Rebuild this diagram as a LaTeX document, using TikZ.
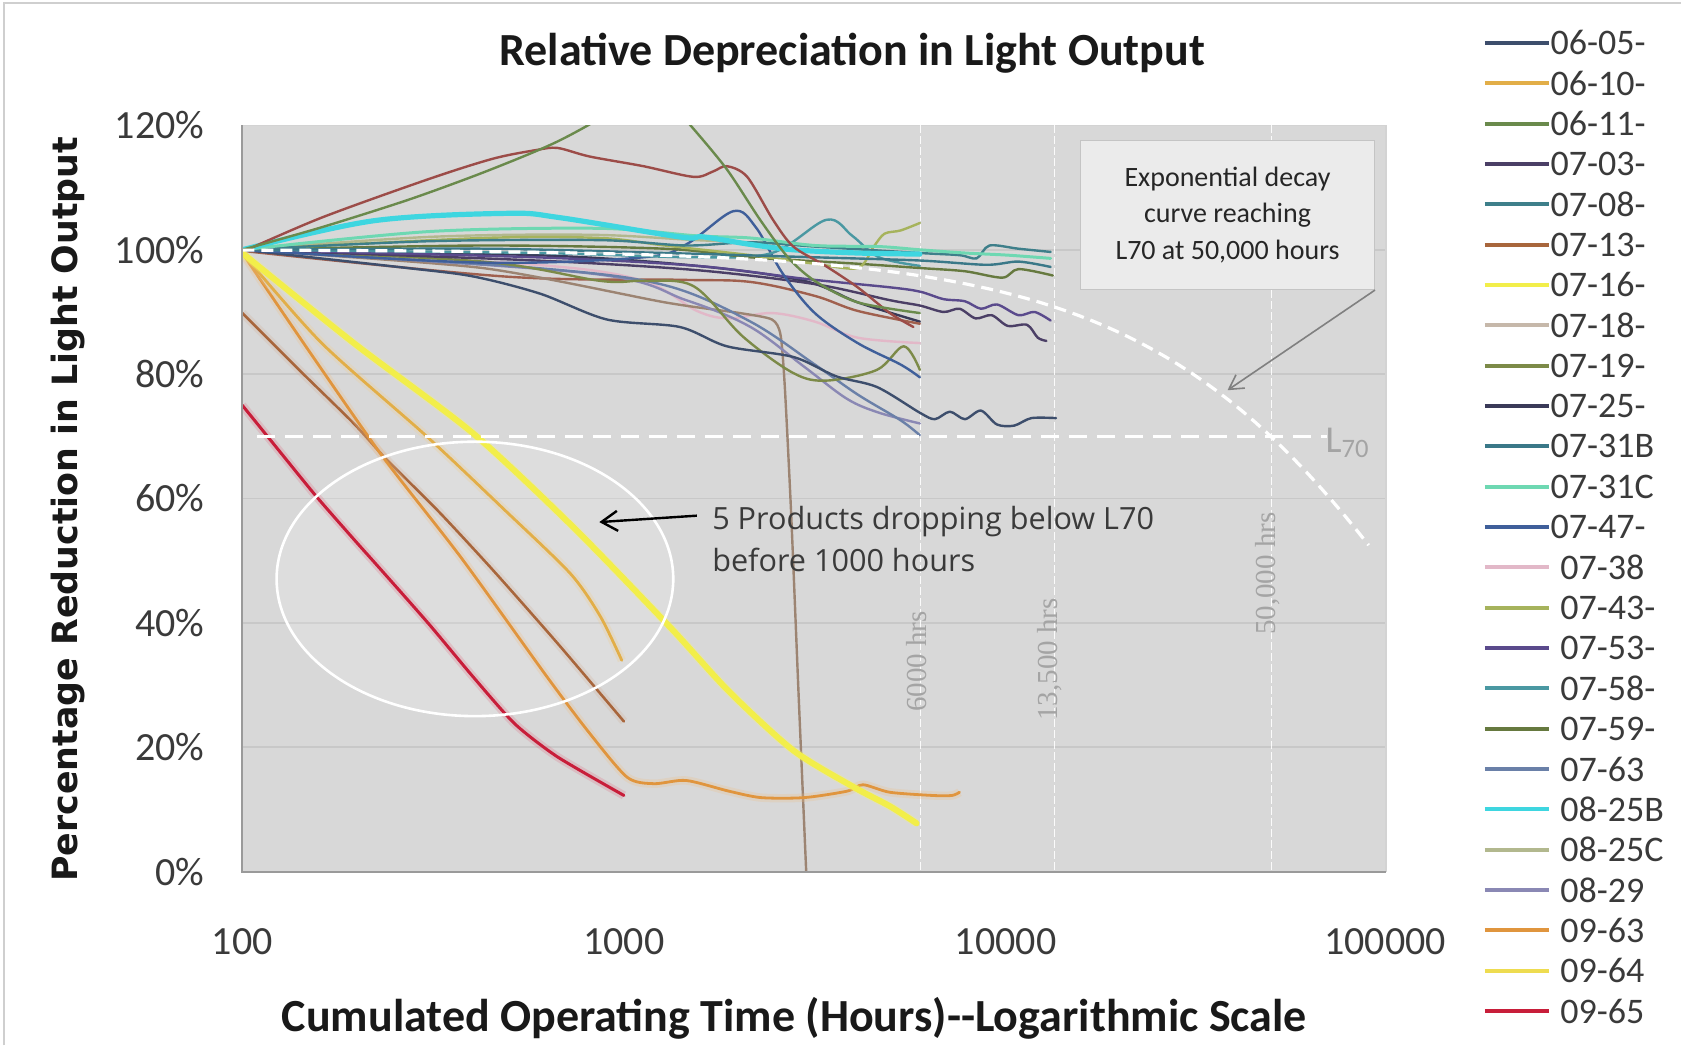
\documentclass[tikz,border=0pt]{standalone}
\usepackage{fontspec}
\setmainfont{Carlito}
\newfontfamily\ysans{DejaVu Sans}
\newfontfamily\osans{Open Sans}
\newfontfamily\hrsfont{Liberation Serif}
\usetikzlibrary{arrows.meta}

\definecolor{plotbg}{HTML}{D8D8D8}
\definecolor{gridc}{HTML}{C8C8C8}
\definecolor{axisc}{HTML}{9A9A9A}
\definecolor{framec}{HTML}{CFCFCF}
\definecolor{txtc}{HTML}{3A3A3A}
\definecolor{lightlab}{HTML}{A4A4A4}
\definecolor{calfill}{HTML}{EBEBEB}
\definecolor{caldraw}{HTML}{C4C4C4}
\definecolor{c0605}{HTML}{3D4E6C}
\definecolor{c0610}{HTML}{E2AE48}
\definecolor{c0611}{HTML}{6A8A4C}
\definecolor{c0703}{HTML}{4B3F66}
\definecolor{c0708}{HTML}{3E7F8A}
\definecolor{c0713}{HTML}{A8663C}
\definecolor{c0716}{HTML}{F2EE4A}
\definecolor{c0718}{HTML}{9C8472}
\definecolor{c0718L}{HTML}{C6B8AA}
\definecolor{c0719}{HTML}{7C8A48}
\definecolor{c0725}{HTML}{3A3A58}
\definecolor{c0731B}{HTML}{3A7888}
\definecolor{c0731C}{HTML}{6ED8B2}
\definecolor{c0747}{HTML}{3F5F9A}
\definecolor{c0738}{HTML}{E2B8C8}
\definecolor{c0743}{HTML}{A6B35C}
\definecolor{c0753}{HTML}{5A4A8C}
\definecolor{c0758}{HTML}{4A98A2}
\definecolor{c0759}{HTML}{66793F}
\definecolor{c0763}{HTML}{6A80A8}
\definecolor{c0825B}{HTML}{3ED6E0}
\definecolor{c0825C}{HTML}{B2B88E}
\definecolor{c0829}{HTML}{8A88B4}
\definecolor{c0963}{HTML}{E0953E}
\definecolor{c0964}{HTML}{EEDC50}
\definecolor{c0965}{HTML}{C81E3A}
\definecolor{cmaroon}{HTML}{9C4C48}
\definecolor{cbrownb}{HTML}{A0604E}

\tikzset{
  crv/.style={line width=1.2pt, line join=round, line cap=round},
  glow/.style={preaction={draw=#1, line width=4.2pt, draw opacity=0.28}},
  legline/.style={line width=2pt},
  legtext/.style={anchor=west, inner sep=0pt, text=txtc, font=\fontsize{18}{20}\selectfont},
  ytick/.style={anchor=east, inner sep=0pt, text=txtc, font=\fontsize{20}{22}\selectfont},
  xtick/.style={anchor=center, inner sep=0pt, text=txtc, font=\fontsize{20}{22}\selectfont},
  hrslab/.style={rotate=90, inner sep=0pt, text=lightlab, font=\hrsfont\fontsize{14.5}{16}\selectfont},
  whitedash/.style={draw=white, line width=1.6pt, dash pattern=on 6pt off 3.5pt},
  vline/.style={draw=white, line width=0.7pt, dash pattern=on 4pt off 1.5pt, draw opacity=0.9},
  callbox/.style={draw=caldraw, fill=calfill, line width=0.6pt, align=center, inner sep=0pt,
     minimum width=146.9pt, minimum height=74.5pt, text=black!85, font=\fontsize{14}{18.3}\selectfont},
  note/.style={anchor=base west, inner sep=0pt, text=txtc, font=\osans\fontsize{15.3}{18}\selectfont}
}

\begin{document}
\begin{tikzpicture}[x=0.536pt,y=-0.536pt]
\useasboundingbox (0,0) rectangle (1568,975);
\fill[white] (0,0) rectangle (1568,975);
\draw[framec, line width=1pt] (4,975) -- (4,3) -- (1568,3);

% plot area
\fill[plotbg] (226,117) rectangle (1293,813);
\foreach \yy in {233,349,465,581,697}
  \draw[gridc, line width=0.8pt] (226,\yy) -- (1293,\yy);
\draw[gridc!80!white, line width=0.8pt] (226,117) -- (1293,117) -- (1293,813);
\foreach \xx in {858.5,983.7,1186}
  \draw[vline] (\xx,117) -- (\xx,813);

% ellipse interior
\fill[white, fill opacity=0.15] (443,540) ellipse [x radius=185, y radius=128];

\begin{scope}
\clip (226,117) rectangle (1293,813);
% upper bundle
\draw[crv, c0825C] plot[smooth, tension=0.55] coordinates {(226,233) (400,221) (550,219) (650,224) (760,229) (858,238)};
\draw[crv, c0725] plot[smooth, tension=0.55] coordinates {(226,233) (500,238) (650,248) (750,262) (800,282) (858,300)};
\draw[crv, cbrownb] plot[smooth, tension=0.55] coordinates {(226,234) (472,258) (634,261) (700,263) (760,276) (800,290) (858,302)};
\draw[crv, c0738] plot[smooth, tension=0.55] coordinates {(226,233) (500,247) (600,262) (650,290) (680,297) (720,292) (760,300) (800,315) (858,320)};
\draw[crv, c0718] plot[smooth, tension=0.4] coordinates {(226,233) (450,250) (620,282) (690,292) (720,298) (728,312) (732,360) (738,480) (745,650) (752,813)};
\draw[crv, c0829] plot[smooth, tension=0.55] coordinates {(226,233) (550,255) (640,280) (700,305) (750,342) (790,372) (820,385) (858,395)};
\draw[crv, c0763] plot[smooth, tension=0.55] coordinates {(226,233) (500,250) (620,266) (700,300) (760,340) (800,368) (840,392) (858,406)};
\draw[crv, c0719] plot[smooth, tension=0.55] coordinates {(226,233) (450,244) (560,262) (600,262) (647,267) (693,314) (740,348) (771,355) (818,345) (843,323) (858,345)};
\draw[crv, c0605] plot[smooth, tension=0.5] coordinates {(226,233) (380,250) (442,258) (504,274) (566,298) (634,305) (678,323) (740,333) (780,351) (818,361) (858,385) (872,391) (886,384) (900,391) (915,383) (930,396) (946,397) (962,390) (985,390)};
\draw[crv, c0703] plot[smooth, tension=0.5] coordinates {(226,233) (500,243) (650,252) (760,265) (830,280) (858,285) (880,291) (895,288) (910,297) (925,294) (940,304) (958,303) (968,315) (976,318)};
\draw[crv, c0753] plot[smooth, tension=0.5] coordinates {(226,233) (500,240) (650,248) (750,260) (830,268) (858,272) (880,279) (900,281) (915,288) (930,284) (950,294) (965,291) (980,299)};
\draw[crv, c0747] plot[smooth, tension=0.55] coordinates {(226,233) (450,245) (600,240) (640,228) (684,197) (705,212) (730,255) (760,292) (800,320) (840,340) (858,352)};
\draw[crv, c0758] plot[smooth, tension=0.55] coordinates {(226,233) (500,236) (650,240) (720,236) (771,205) (795,220) (820,240) (858,248)};
\draw[crv, c0759] plot[smooth, tension=0.5] coordinates {(226,233) (450,229) (620,232) (700,240) (800,246) (858,250) (900,253) (935,259) (950,251) (982,257)};
\draw[crv, c0743] plot[smooth, tension=0.5] coordinates {(226,233) (450,222) (560,222) (620,229) (700,238) (760,246) (800,250) (815,230) (825,218) (840,215) (858,208)};
\draw[crv, c0731B] plot[smooth, tension=0.5] coordinates {(226,233) (450,232) (620,236) (760,240) (858,243) (920,247) (950,244) (980,249)};
\draw[crv, c0708] plot[smooth, tension=0.5] coordinates {(226,233) (400,225) (560,224) (640,229) (700,226) (760,230) (858,236) (895,238) (911,241) (923,229) (950,232) (980,235)};
\draw[crv, c0731C, line width=1.5pt] plot[smooth, tension=0.5] coordinates {(226,233) (400,216) (560,213) (650,220) (700,222) (760,229) (820,230) (858,233) (900,236) (940,238) (980,241)};
\draw[crv, c0825B, line width=2.6pt] plot[smooth, tension=0.55] coordinates {(226,233) (348,206) (473,199) (522,203) (634,221) (656,221) (700,228) (740,233) (800,236) (858,237)};
\draw[crv, cmaroon] plot[smooth, tension=0.5] coordinates {(226,235) (300,203) (400,167) (460,148) (500,140) (520,138) (550,146) (600,155) (647,165) (665,160) (678,155) (697,165) (721,205) (740,230) (770,248) (800,268) (830,292) (852,305)};
\draw[crv, c0611] plot[smooth, tension=0.5] coordinates {(226,233) (300,212) (379,187) (440,165) (488,146) (520,132) (550,116) (575,100) (610,95) (635,108) (645,118) (678,158) (709,205) (735,240) (760,262) (800,282) (858,292)};
% failing group
\draw[crv, c0965, line width=1.5pt, glow=c0965!60!white] plot[smooth, tension=0.4] coordinates {(226,378) (260,420) (295,463) (330,503) (355,531) (400,582) (441,631) (480,675) (520,706) (582,742)};
\draw[crv, c0713, line width=1.3pt, glow=c0713!50!white] plot[smooth, tension=0.4] coordinates {(226,292) (280,346) (330,395) (360,428) (410,478) (460,532) (520,600) (582,673)};
\draw[crv, c0963, line width=1.4pt, glow=c0963!60!white] plot[smooth, tension=0.45] coordinates {(226,236) (290,330) (357,426) (430,520) (510,631) (550,684) (585,725) (610,731) (640,728) (680,738) (710,744) (750,744) (790,738) (805,732) (830,739) (870,742) (888,742) (895,739)};
\draw[crv, c0610, line width=1.4pt, glow=c0610!60!white] plot[smooth, tension=0.45] coordinates {(226,236) (300,320) (398,407) (470,475) (532,535) (560,575) (580,616)};
\draw[crv, c0716, line width=3pt, glow=c0716!70!white] plot[smooth, tension=0.45] coordinates {(226,236) (330,320) (441,404) (535,492) (625,585) (680,645) (740,700) (796,734) (830,752) (855,768)};
% exponential decay curve and L70
\draw[whitedash] plot[domain=0:2.955, samples=90, variable=\t] ({226+355.7*\t},{813-580*exp(-0.00071335*pow(10,\t))});
\draw[white, line width=1.6pt, dash pattern=on 9pt off 5pt] (240,407) -- (1238,407);
\end{scope}

% axis lines
\draw[axisc, line width=1pt] (226,117) -- (226,813) -- (1293,813);

% ellipse outline
\draw[white, line width=1.3pt] (443,540) ellipse [x radius=185, y radius=128];

% vertical hour labels
\node[hrslab] (h6000) at (855,617) {6000 hrs};
\node[hrslab] (h13500) at (979,615) {13,500 hrs};
\node[hrslab] (h50000) at (1182,535) {50,000 hrs};

% L70 label
\node[inner sep=0pt, text=lightlab, font=\fontsize{19}{20}\selectfont] (l70) at (1257,413) {L\textsubscript{70}};

% callout
\node[callbox] (cbox) at (1145,200.5) {Exponential decay\\curve reaching\\L70 at 50,000 hours};
\coordinate (ctip) at (1145,364);
\draw[gray, line width=0.8pt, -{Straight Barb[length=7pt,width=8pt]}] (cbox.south east) -- (ctip);

% products annotation
\node[note] (p1) at (664,493.5) {5 Products dropping below L70};
\node[note] (p2) at (664,533) {before 1000 hours};
\coordinate (atail) at (650,481);
\coordinate (atip) at (559,487);
\draw[black, line width=1.2pt, -{Straight Barb[length=8pt,width=10pt]}] (atail) -- (atip);

% tick labels
\node[ytick] (y120) at (191,117) {120\%};
\node[ytick] (y100) at (191,233) {100\%};
\node[ytick] (y80) at (191,349) {80\%};
\node[ytick] (y60) at (191,465) {60\%};
\node[ytick] (y40) at (191,581) {40\%};
\node[ytick] (y20) at (191,697) {20\%};
\node[ytick] (y0) at (191,813) {0\%};
\node[xtick] (x100) at (226,878) {100};
\node[xtick] (x1000) at (582,878) {1000};
\node[xtick] (x10000) at (938,878) {10000};
\node[xtick] (x100000) at (1292,878) {100000};

% titles
\node[inner sep=0pt, text=black!90, font=\bfseries\fontsize{23}{26}\selectfont] (title) at (795,50) {Relative Depreciation in Light Output};
\node[inner sep=0pt, text=black!90, font=\bfseries\fontsize{23}{26}\selectfont] (xlab) at (741,950) {Cumulated Operating Time (Hours)-{}-Logarithmic Scale};
\node[inner sep=0pt, rotate=90, text=black!90, font=\ysans\bfseries\fontsize{17.4}{20}\selectfont] (ylab) at (63,475) {Percentage Reduction in Light Output};

% legend
\foreach \k/\col/\lab/\dx in {
 0/c0605/06-05-/0, 1/c0610/06-10-/0, 2/c0611/06-11-/0, 3/c0703/07-03-/0,
 4/c0708/07-08-/0, 5/c0713/07-13-/0, 6/c0716/07-16-/0, 7/c0718L/07-18-/0,
 8/c0719/07-19-/0, 9/c0725/07-25-/0, 10/c0731B/07-31B/0, 11/c0731C/07-31C/0,
 12/c0747/07-47-/0, 13/c0738/07-38/9, 14/c0743/07-43-/9, 15/c0753/07-53-/9,
 16/c0758/07-58-/9, 17/c0759/07-59-/9, 18/c0763/07-63/9, 19/c0825B/08-25B/9,
 20/c0825C/08-25C/9, 21/c0829/08-29/9, 22/c0963/09-63/9, 23/c0964/09-64/9,
 24/c0965/09-65/9}
{
  \coordinate (la\k) at (1385,{40+37.63*\k});
  \coordinate (lb\k) at (1445,{40+37.63*\k});
  \draw[legline, draw=\col] (la\k) -- (lb\k);
  \node[legtext] (lt\k) at ({1446+\dx},{40+37.63*\k}) {\lab};
}
\end{tikzpicture}
\end{document}
